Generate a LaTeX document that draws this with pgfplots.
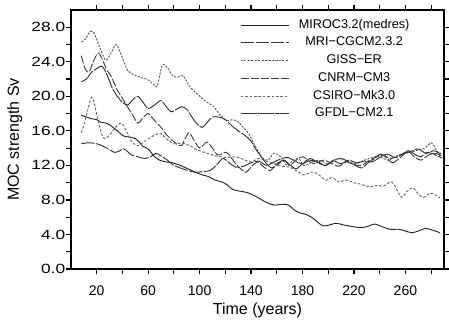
\documentclass[border=0pt]{standalone}
\usepackage{fontspec}
\setmainfont{Liberation Sans}
\newfontfamily\yfont[FakeStretch=1.3]{Liberation Sans}
\usepackage{pgfplots}
\pgfplotsset{compat=1.18}
\begin{document}
\begin{tikzpicture}
\begin{axis}[name=ax, width=279.75pt, height=194.25pt, scale only axis,
 xmin=0, xmax=290, ymin=0, ymax=30,
 axis line style={line width=1.2pt},
 tick align=outside, xtick pos=both, ytick pos=both,
 major tick length=3.75pt,
 tick style={line width=0.9pt, black},
 xtick={20,40,...,280},
 xticklabels={20,,60,,100,,140,,180,,220,,260,},
 ytick={0,2,...,28},
 yticklabels={0.0,,4.0,,8.0,,12.0,,16.0,,20.0,,24.0,,28.0},
 xticklabel style={font=\fontsize{10.5}{12}\selectfont, inner sep=0pt, yshift=-8.25pt},
 yticklabel style={font=\yfont\fontsize{10}{12}\selectfont, inner sep=0pt, xshift=-0.4pt},
 xlabel={Time (years)}, ylabel={MOC strength Sv},
 every axis x label/.style={at={([yshift=-34.5pt]axis description cs:0.5,0)}, anchor=base, font=\fontsize{12}{14}\selectfont},
 every axis y label/.style={at={([xshift=-39pt]axis description cs:0,0.5)}, rotate=90, anchor=base, font=\fontsize{12}{14}\selectfont},
 legend style={at={(0.453,0.977)}, anchor=north west, draw=none, fill=none, inner sep=0pt, row sep=0pt,
   nodes={inner sep=0pt, text height=9pt, text depth=4.3pt, font=\fontsize{9.5}{11}\selectfont}},
 legend image code/.code={\draw[#1] (0pt,0pt) -- (36pt,0pt);},
 legend cell align=left,
 every axis plot/.append style={line width=0.7pt, smooth},
]
% MIROC3.2(medres)
\addplot[black!85] coordinates {(8,17.8)(12,17.6)(16,17.4)(20,17.3)(23,17.0)(27,16.9)(31,16.6)(36,16.0)(41,15.4)(45,15.3)(50,15.1)(53,14.7)(56,14.2)(60,13.9)(65,13.0)(69,12.6)(74,12.4)(79,12.3)(85,12.0)(91,11.6)(97,11.2)(102,10.9)(107,10.7)(112,10.3)(117,10.1)(121,9.8)(126,9.2)(132,9.0)(138,8.8)(145,8.3)(152,7.7)(158,7.4)(164,7.5)(169,7.4)(174,6.8)(178,6.5)(183,6.3)(188,5.9)(192,5.4)(196,5.0)(201,5.1)(206,5.3)(212,5.1)(219,4.9)(225,4.8)(230,4.9)(236,5.2)(242,4.9)(248,4.6)(255,4.6)(260,4.4)(265,4.2)(270,4.4)(276,4.7)(281,4.5)(287,4.2)};
\addlegendentry{\makebox[97.5pt][c]{MIROC3.2(medres)}}
% MRI
\addplot[black!80, dash pattern=on 10pt off 1.2pt] coordinates {(8,14.5)(12,14.6)(16,14.6)(20,14.5)(24,14.3)(29,13.9)(34,13.5)(38,13.7)(41,13.9)(44,13.6)(47,13.2)(52,13.0)(57,12.8)(62,13.0)(66,13.4)(70,13.1)(75,12.6)(80,12.0)(85,11.7)(91,11.4)(97,11.2)(103,11.3)(108,11.4)(113,12.0)(118,12.8)(123,12.3)(128,11.8)(134,11.9)(140,12.3)(146,12.5)(152,12.0)(158,12.4)(164,12.8)(169,12.9)(174,12.5)(180,12.2)(186,12.6)(192,12.4)(198,12.0)(204,12.6)(210,12.8)(216,12.4)(221,12.0)(226,11.7)(231,12.3)(236,12.8)(241,13.3)(246,12.8)(250,12.3)(256,12.9)(262,13.7)(267,13.3)(272,13.0)(277,13.5)(282,13.3)(288,12.9)};
\addlegendentry{\makebox[97.5pt][c]{MRI−CGCM2.3.2}}
% GISS
\addplot[black!65, dash pattern=on 1.6pt off 1pt] coordinates {(8,26.3)(11,26.6)(15,27.5)(18,27.3)(22,25.8)(27,24.2)(31,25.0)(35,26.0)(39,24.8)(44,23.0)(49,22.5)(54,22.2)(60,21.9)(64,21.4)(67,21.2)(71,23.6)(75,23.3)(79,22.4)(83,22.2)(87,22.4)(92,21.2)(97,20.4)(101,19.9)(106,19.3)(111,18.8)(116,17.8)(121,17.2)(126,17.3)(130,17.0)(134,16.4)(138,15.7)(142,14.6)(148,13.0)(153,12.6)(158,13.4)(163,13.0)(168,12.0)(172,12.5)(177,12.8)(181,12.0)(186,12.3)(192,12.6)(200,12.2)(205,12.6)(210,12.8)(216,12.4)(222,12.2)(228,12.6)(234,12.9)(240,13.1)(246,12.6)(252,13.0)(258,13.4)(264,13.5)(270,13.8)(275,14.0)(280,14.6)(284,13.8)(288,12.8)};
\addlegendentry{\makebox[97.5pt][c]{GISS−ER}}
% CNRM
\addplot[black!75, dash pattern=on 6pt off 1.5pt] coordinates {(8,24.7)(11,23.2)(14,22.8)(17,23.9)(21,25.0)(24,24.4)(28,23.0)(31,22.4)(36,20.7)(40,19.8)(43,19.0)(48,17.8)(52,16.9)(56,17.5)(60,18.0)(65,17.2)(70,16.4)(74,15.6)(78,15.0)(82,14.5)(86,14.3)(89,15.2)(92,15.8)(96,14.8)(100,14.0)(103,14.4)(106,14.7)(110,14.0)(114,13.2)(118,13.4)(121,13.5)(125,12.8)(128,12.2)(132,11.6)(136,11.2)(140,11.8)(145,12.4)(150,11.8)(155,11.4)(160,12.2)(166,12.6)(170,12.0)(175,12.6)(180,13.0)(186,12.4)(190,12.2)(196,12.6)(202,12.3)(208,11.9)(214,12.4)(220,12.1)(226,12.0)(232,12.6)(238,13.0)(243,13.2)(248,12.8)(255,13.1)(262,13.6)(267,13.0)(272,12.6)(278,13.2)(284,13.4)(288,13.1)};
\addlegendentry{\makebox[97.5pt][c]{CNRM−CM3}}
% CSIRO
\addplot[black!60, dash pattern=on 2pt off 1.3pt] coordinates {(8,15.8)(11,17.2)(14,19.0)(16,19.9)(18,19.3)(21,17.2)(24,15.6)(26,15.1)(30,15.5)(34,16.3)(39,16.9)(43,16.0)(46,15.0)(49,14.5)(53,14.3)(58,14.9)(65,15.5)(70,15.7)(74,15.1)(80,14.5)(86,14.6)(92,14.3)(98,13.8)(104,13.5)(110,13.2)(116,13.0)(122,12.9)(128,13.0)(134,12.7)(140,12.4)(146,12.8)(152,12.5)(158,12.2)(164,11.9)(170,11.8)(175,11.4)(181,10.9)(186,11.2)(191,11.1)(198,10.3)(203,10.6)(208,10.1)(214,10.3)(220,10.0)(226,9.8)(232,9.5)(238,9.7)(243,9.6)(249,10.1)(253,9.3)(257,8.3)(262,9.1)(266,9.4)(270,8.7)(274,8.3)(279,8.8)(283,8.6)(287,8.2)};
\addlegendentry{\makebox[97.5pt][c]{CSIRO−Mk3.0}}
% GFDL
\addplot[black!80, dash pattern=on 12pt off 1pt] coordinates {(8,21.7)(12,22.0)(16,22.8)(20,23.2)(24,23.5)(28,22.5)(32,21.0)(36,20.0)(40,19.3)(44,19.0)(48,19.6)(52,20.0)(56,19.3)(60,18.6)(65,19.0)(70,19.5)(74,18.8)(78,18.2)(82,18.5)(86,18.8)(90,18.5)(94,17.6)(98,16.8)(102,16.4)(106,17.0)(110,17.6)(115,17.6)(120,17.3)(125,16.6)(130,16.0)(135,15.5)(140,14.8)(144,13.8)(148,13.0)(152,12.2)(156,11.7)(160,12.0)(165,12.6)(170,12.1)(175,11.6)(180,12.2)(186,12.8)(192,12.3)(198,12.0)(204,12.5)(210,12.2)(216,12.6)(222,12.3)(228,12.5)(234,12.4)(240,12.9)(246,13.3)(252,12.9)(258,13.3)(264,13.6)(270,13.9)(276,13.4)(282,13.7)(288,13.3)};
\addlegendentry{\makebox[97.5pt][c]{GFDL−CM2.1}}
\end{axis}
\pgfresetboundingbox
\path ([xshift=-53.25pt,yshift=-38.25pt]ax.south west) rectangle ([xshift=3.75pt,yshift=7.5pt]ax.north east);
\end{tikzpicture}
\end{document}
